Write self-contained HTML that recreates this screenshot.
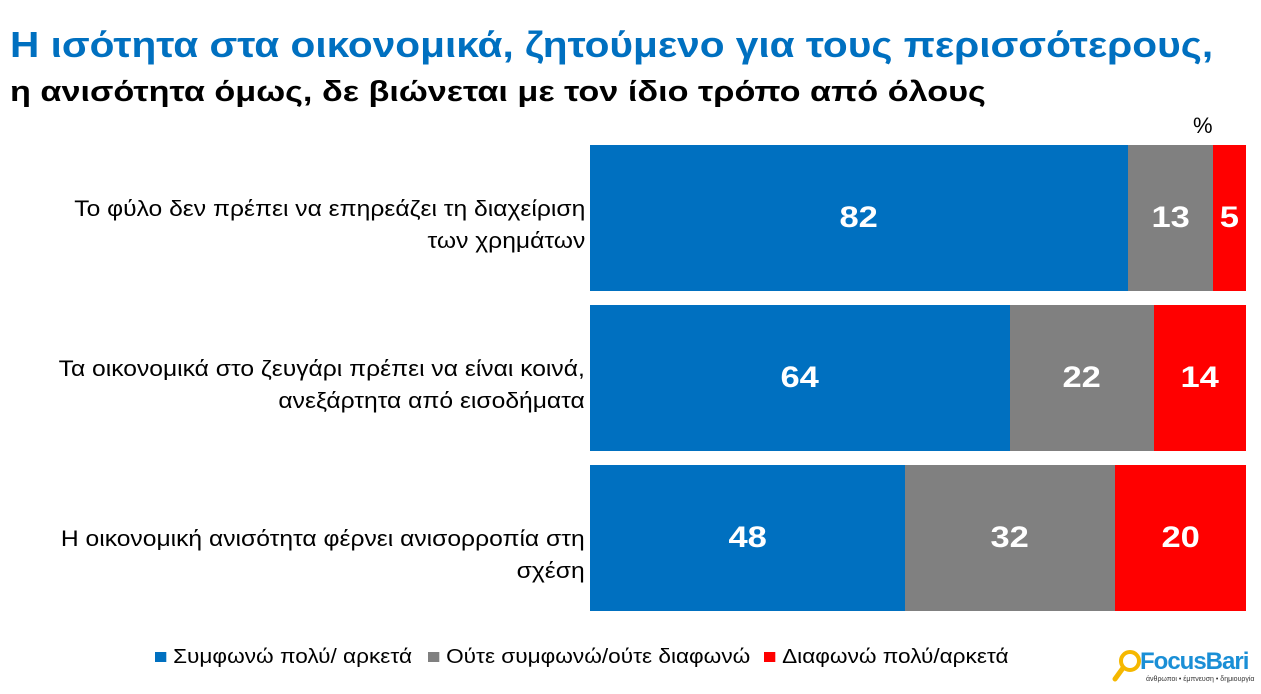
<!DOCTYPE html>
<html><head><meta charset="utf-8"><style>
body{margin:0;width:1261px;height:694px;background:#fff;position:relative;overflow:hidden;font-family:"Liberation Sans","DejaVu Sans",sans-serif}
.a{position:absolute;white-space:nowrap}
.t1{left:10px;top:24px;font-size:36px;font-weight:bold;color:#0070c0;transform-origin:0 0;transform:scaleX(1.128)}
.t2{left:10px;top:76px;font-size:29px;font-weight:bold;color:#000;transform-origin:0 0;transform:scaleX(1.18)}
.lbl{right:676px;text-align:right;font-size:22px;line-height:32px;color:#000;transform-origin:100% 0;transform:scaleX(1.12)}
.bar{position:absolute;display:flex;align-items:center;justify-content:center;color:#fff;font-weight:bold;font-size:30px}
.bar span{display:inline-block;transform:scaleX(1.15)}
.b{background:#0070c0}.g{background:#808080}.r{background:#ff0000}
.lg{top:646px;font-size:20px;color:#000;transform-origin:0 0;transform:scaleX(1.13)}
.sq{display:inline-block;width:10px;height:10px;margin-right:6px;vertical-align:1px}
</style></head><body>
<div class="a t1">Η ισότητα στα οικονομικά, ζητούμενο για τους περισσότερους,</div>
<div class="a t2">η ανισότητα όμως, δε βιώνεται με τον ίδιο τρόπο από όλους</div>
<div class="a" style="left:1193px;top:113px;font-size:22px">%</div>

<div class="a lbl" style="top:193px">Το φύλο δεν πρέπει να επηρεάζει τη διαχείριση<br>των χρημάτων</div>
<div class="a lbl" style="top:353px">Τα οικονομικά στο ζευγάρι πρέπει να είναι κοινά,<br>ανεξάρτητα από εισοδήματα</div>
<div class="a lbl" style="top:523px">Η οικονομική ανισότητα φέρνει ανισορροπία στη<br>σχέση</div>

<div class="bar b" style="left:590px;top:145px;width:538px;height:146px"><span>82</span></div>
<div class="bar g" style="left:1128px;top:145px;width:85px;height:146px"><span>13</span></div>
<div class="bar r" style="left:1213px;top:145px;width:33px;height:146px"><span>5</span></div>

<div class="bar b" style="left:590px;top:305px;width:420px;height:146px"><span>64</span></div>
<div class="bar g" style="left:1010px;top:305px;width:144px;height:146px"><span>22</span></div>
<div class="bar r" style="left:1154px;top:305px;width:92px;height:146px"><span>14</span></div>

<div class="bar b" style="left:590px;top:465px;width:315px;height:146px"><span>48</span></div>
<div class="bar g" style="left:905px;top:465px;width:210px;height:146px"><span>32</span></div>
<div class="bar r" style="left:1115px;top:465px;width:131px;height:146px"><span>20</span></div>

<div class="a lg" style="left:155px"><span class="sq" style="background:#0070c0"></span>Συμφωνώ πολύ/ αρκετά</div>
<div class="a lg" style="left:428px"><span class="sq" style="background:#808080"></span>Ούτε συμφωνώ/ούτε διαφωνώ</div>
<div class="a lg" style="left:764px"><span class="sq" style="background:#ff0000"></span>Διαφωνώ πολύ/αρκετά</div>

<svg class="a" style="left:1112px;top:648px" width="32" height="38"><circle cx="18" cy="13" r="9" fill="none" stroke="#f5b800" stroke-width="4"/><line x1="11" y1="20" x2="3" y2="31" stroke="#f5b800" stroke-width="5" stroke-linecap="round"/></svg>
<div class="a" style="left:1140px;top:648px;font-size:24px;font-weight:bold;color:#1a8fd6;letter-spacing:-1px">FocusBari</div>
<div class="a" style="left:1146px;top:676px;font-size:7px;color:#333">άνθρωποι • έμπνευση • δημιουργία</div>
</body></html>
